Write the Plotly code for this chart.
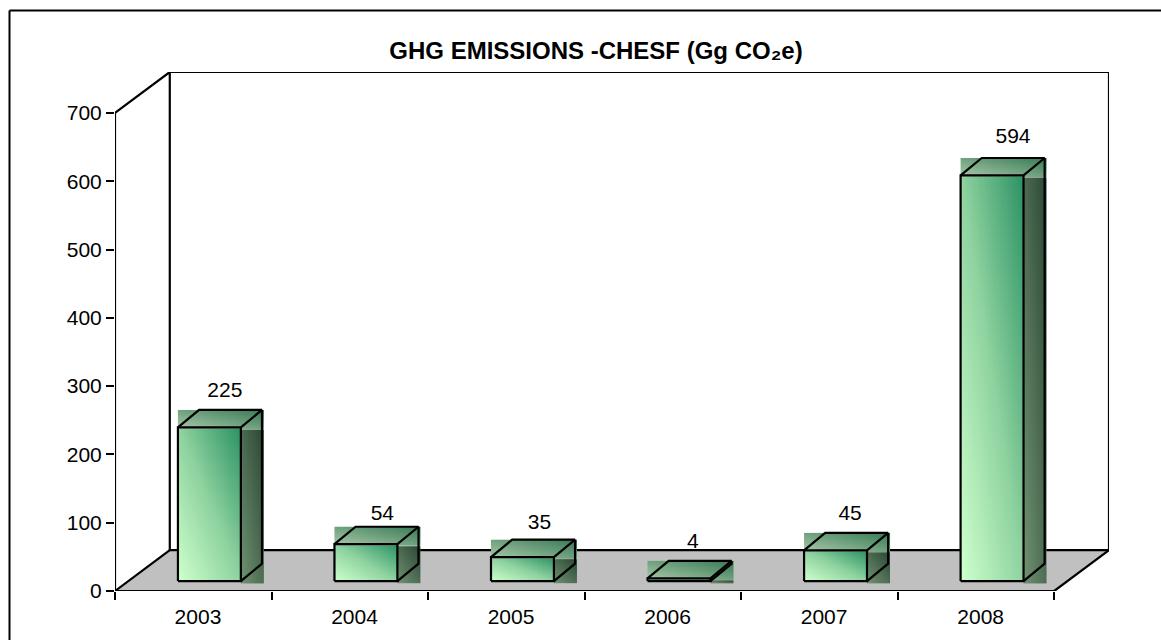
import numpy as np
import plotly.graph_objects as go

# Annual emissions, Gg CO2e
years = ["2003", "2004", "2005", "2006", "2007", "2008"]
emissions = [225, 54, 35, 4, 45, 594]
y_ticks = [0, 100, 200, 300, 400, 500, 600, 700]

# Box geometry, in axis units (x: one category = 1, y: Gg CO2e)
WALL_DX, WALL_DY = 0.35, 60
BAR_OFFSET, BAR_WIDTH = 0.402, 0.402
BAR_BASE = 14.6
BAR_DX, BAR_DY = 0.135, 25.5
OVER_X, OVER_Y = 0.015, 3.0
LABEL_DX, LABEL_DY = 0.30, 67
# Hand placement of the value labels around their default spot
LABEL_NUDGE_X = [0, 0.006, 0.01, -0.01, -0.006, 0.035]
LABEL_NUDGE_Y = [0, -9, -4, 0, 0, 3]

FONT = "Liberation Sans, Arial, sans-serif"
LINE = dict(color="black", width=2)

FRONT_SCALE = [[0, "#ccffcc"], [0.5, "#8fd3a0"], [1, "#2f9466"]]
SIDE_SCALE = [[0, "#6f9070"], [1, "#294634"]]
TOP_SCALE = [[0, "#a9c9a9"], [1, "#3a7c57"]]

fig = go.Figure()


def shaded_face(x0, x1, y0, y1, scale):
    """Rectangular patch with a lower-left to upper-right gradient."""
    n = 24
    u, v = np.meshgrid(np.linspace(0, 1, n), np.linspace(0, 1, n))
    fig.add_trace(go.Heatmap(
        x=np.linspace(x0, x1, n + 1), y=np.linspace(y0, y1, n + 1),
        z=(u + v) / 2, zmin=0, zmax=1, colorscale=scale, zsmooth="best",
        showscale=False, hoverinfo="skip",
    ))


def outline(xs, ys, width=2.2):
    fig.add_trace(go.Scatter(
        x=xs, y=ys, mode="lines", line=dict(color="black", width=width),
        hoverinfo="skip", showlegend=False, cliponaxis=False,
    ))


# Chart box edges; the back edge of the floor is a shape so the bars hide it
n = len(years)
top = y_ticks[-1] + WALL_DY
outline([0, 0], [0, y_ticks[-1]])
outline([0, n], [0, 0])
outline([0, WALL_DX, WALL_DX], [y_ticks[-1], top, WALL_DY])
outline([WALL_DX, n + WALL_DX, n + WALL_DX], [top, top, WALL_DY])
outline([0, WALL_DX], [0, WALL_DY])
outline([n, n + WALL_DX], [0, WALL_DY])

# Bars: bitmap-like shaded patches first, black edges on top
for i, value in enumerate(emissions):
    left = i + BAR_OFFSET
    right = left + BAR_WIDTH
    low = BAR_BASE
    high = BAR_BASE + value
    shaded_face(left, right, low, high, FRONT_SCALE)
    shaded_face(right, right + BAR_DX + OVER_X, low - OVER_Y, high - OVER_Y, SIDE_SCALE)
    shaded_face(left, right + BAR_DX + OVER_X, high - OVER_Y, high + BAR_DY, TOP_SCALE)
    outline([left, right, right, left, left], [low, low, high, high, low])
    outline([left, left + BAR_DX, right + BAR_DX, right], [high, high + BAR_DY, high + BAR_DY, high])
    outline([right + BAR_DX, right + BAR_DX, right], [high + BAR_DY, low + BAR_DY, low])

# Value labels above each bar
fig.add_trace(go.Scatter(
    x=[i + BAR_OFFSET + LABEL_DX + LABEL_NUDGE_X[i] for i in range(n)],
    y=[v + LABEL_DY + LABEL_NUDGE_Y[i] for i, v in enumerate(emissions)],
    text=[str(v) for v in emissions],
    mode="text", textposition="middle center",
    textfont=dict(family=FONT, size=21, color="black"),
    hoverinfo="skip", showlegend=False, cliponaxis=False,
))

# Floor of the box and the outer frame
shapes = [
    dict(type="path", layer="below", xref="x", yref="y",
         path=f"M 0 0 L {WALL_DX} {WALL_DY} L {n + WALL_DX} {WALL_DY} L {n} 0 Z",
         fillcolor="#c0c0c0", line=dict(width=0)),
    dict(type="line", layer="below", xref="x", yref="y",
         x0=WALL_DX, y0=WALL_DY, x1=n + WALL_DX, y1=WALL_DY,
         line=dict(color="black", width=2.2)),
]
PLOT_L, PLOT_T, PLOT_W, PLOT_H = 115, 72, 994, 519
frame_x = (9.5 - PLOT_L) / PLOT_W
frame_y = 1 - (10.5 - PLOT_T) / PLOT_H
frame_bottom = 1 - (640 - PLOT_T) / PLOT_H
frame_right = (1161 - PLOT_L) / PLOT_W
for x0, y0, x1, y1 in [(frame_x, frame_y, frame_right, frame_y),
                       (frame_x, frame_y, frame_x, frame_bottom)]:
    shapes.append(dict(type="line", xref="paper", yref="paper",
                       x0=x0, y0=y0, x1=x1, y1=y1, line=LINE))

fig.update_layout(
    width=1161, height=640,
    margin=dict(l=PLOT_L, r=1161 - PLOT_L - PLOT_W, t=PLOT_T, b=640 - PLOT_T - PLOT_H),
    paper_bgcolor="white", plot_bgcolor="white",
    showlegend=False, shapes=shapes,
    font=dict(family=FONT, size=21, color="black"),
    title=dict(text="<b>GHG EMISSIONS -CHESF (Gg CO₂e)</b>",
               x=596 / 1161, xanchor="center", y=1 - 51 / 640, yanchor="middle",
               font=dict(family=FONT, size=24, color="black")),
    xaxis=dict(
        range=[0, n + WALL_DX], showgrid=False, zeroline=False, showline=False,
        automargin=False,
        tickmode="array", tickvals=[i + 0.53 for i in range(n)], ticktext=years,
        ticks="outside", ticklen=7, tickcolor="rgba(0,0,0,0)", tickfont=dict(size=21),
        minor=dict(tickmode="array", tickvals=list(range(n + 1)), ticks="outside",
                   ticklen=8, tickwidth=2, tickcolor="black", showgrid=False),
    ),
    yaxis=dict(
        range=[0, y_ticks[-1] + WALL_DY], showgrid=False, zeroline=False, showline=False,
        automargin=False,
        tickmode="array", tickvals=y_ticks, ticks="outside", ticklen=8, tickwidth=2,
        tickcolor="black", tickfont=dict(size=21),
    ),
)

fig.write_html("out.html")
